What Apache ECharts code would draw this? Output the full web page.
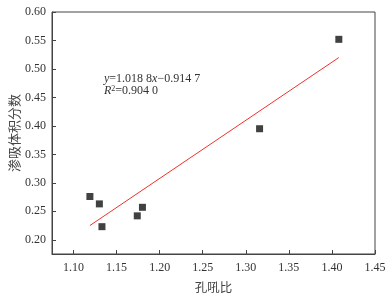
<!DOCTYPE html>
<html><head><meta charset="utf-8">
<script src="https://cdn.jsdelivr.net/npm/echarts@6/dist/echarts.min.js"></script>
<style>html,body{margin:0;padding:0;background:#fff}#c{width:392px;height:294px}</style>
</head><body><div id="c"></div>
<script>
var pointsX = [1.119, 1.130, 1.133, 1.174, 1.180, 1.316, 1.408];
var pointsY = [0.276, 0.263, 0.223, 0.242, 0.257, 0.395, 0.552];
var fitX = [1.119, 1.408];
var fitY = [0.225, 0.520];
var xTicks = [1.10, 1.15, 1.20, 1.25, 1.30, 1.35, 1.40, 1.45];
var yTicks = [0.20, 0.25, 0.30, 0.35, 0.40, 0.45, 0.50, 0.55, 0.60];
var xName = '孔吼比';
var yName = '渗吸体积分数';

var serif = '"Liberation Serif", "DejaVu Serif", serif';
var cjk = '"Noto Sans CJK SC", sans-serif';
var chart = echarts.init(document.getElementById('c'));
chart.setOption({
  animation: false,
  grid: {left: 52, right: 17, top: 12, bottom: 40, containLabel: false, outerBoundsMode: 'none',
         show: true, borderColor: '#444', borderWidth: 1},
  xAxis: {
    type: 'value', min: 1.075, max: 1.45,
    name: xName, nameLocation: 'middle', nameGap: 27, nameMoveOverlap: false,
    nameTextStyle: {fontFamily: cjk, fontSize: 12.5, color: '#444'},
    axisLine: {show: true, lineStyle: {color: '#444', width: 1}},
    axisTick: {show: true, inside: true, length: 4, customValues: xTicks, lineStyle: {color: '#444'}},
    axisLabel: {customValues: xTicks, formatter: function(v){return v.toFixed(2);}, fontFamily: serif, fontSize: 12, color: '#333', margin: 8},
    splitLine: {show: false}
  },
  yAxis: {
    type: 'value', min: 0.175, max: 0.60,
    name: yName, nameLocation: 'middle', nameGap: 31, nameMoveOverlap: false,
    nameTextStyle: {fontFamily: cjk, fontSize: 13, color: '#444'},
    axisLine: {show: true, lineStyle: {color: '#444', width: 1}},
    axisTick: {show: true, inside: true, length: 4, customValues: yTicks, lineStyle: {color: '#444'}},
    axisLabel: {customValues: yTicks, formatter: function(v){return v.toFixed(2);}, fontFamily: serif, fontSize: 12, color: '#333', margin: 6},
    splitLine: {show: false}
  },
  series: [
    {
      type: 'line', data: fitX.map(function(x, i){return [x, fitY[i]];}),
      showSymbol: false, symbol: 'none', lineStyle: {color: '#f0302a', width: 1}, z: 2
    },
    {
      type: 'scatter', data: pointsX.map(function(x, i){return [x, pointsY[i]];}),
      symbol: 'rect', symbolSize: 7, itemStyle: {color: '#111'}, z: 3
    }
  ],
  graphic: [
    {type: 'text', left: 104, top: 73, style: {
      rich: {
        i: {fontFamily: serif, fontStyle: 'italic', fontSize: 12, fill: '#333'},
        n: {fontFamily: serif, fontSize: 12, fill: '#333'},
        s: {fontFamily: serif, fontSize: 8, fill: '#333', verticalAlign: 'top', padding: [0,0,5,0]}
      },
      text: '{i|y}{n|=1.018 8}{i|x}{n|−0.914 7}\n{i|R}{s|2}{n|=0.904 0}',
      lineHeight: 12
    }}
  ]
});
</script>
</body></html>
